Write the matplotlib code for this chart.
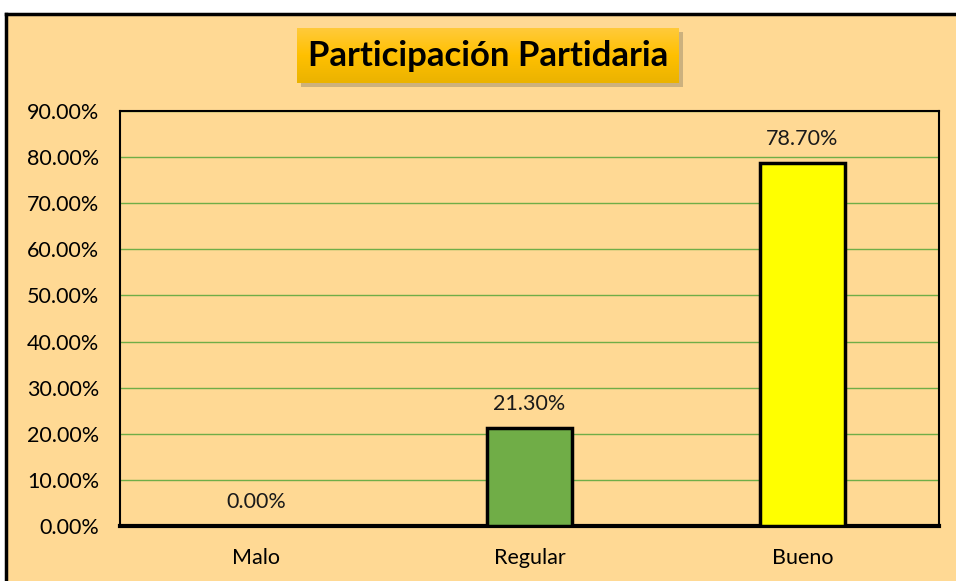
import matplotlib
matplotlib.use('Agg')
import matplotlib.pyplot as plt
from matplotlib.patches import Rectangle
from matplotlib.lines import Line2D
import numpy as np

categories = ['Malo', 'Regular', 'Bueno']
values = [0.0, 21.3, 78.7]
bar_colors = ['#70AD47', '#70AD47', '#FFFF00']
yticks = np.arange(0, 91, 10)

bg = '#FFD994'
plt.rcParams['font.family'] = ['Lato', 'DejaVu Sans']

fig = plt.figure(figsize=(9.56, 5.81), dpi=100)
fig.patch.set_facecolor(bg)

# white margin at top and left, black border only on those two sides
bx, by = 6 / 956, 1 - 14 / 581
fig.patches.append(Rectangle((0, by), 1, 1 - by, transform=fig.transFigure,
                             facecolor='white', edgecolor='none', zorder=-2))
fig.patches.append(Rectangle((0, 0), bx, 1, transform=fig.transFigure,
                             facecolor='white', edgecolor='none', zorder=-2))
fig.lines.append(Line2D([bx, bx], [-0.05, by], transform=fig.transFigure,
                        color='black', linewidth=2.5, zorder=-1))
fig.lines.append(Line2D([bx, 1.05], [by, by], transform=fig.transFigure,
                        color='black', linewidth=2.5, zorder=-1))

ax = fig.add_axes([120 / 956, 55 / 581, 819 / 956, 415 / 581])
ax.set_facecolor(bg)

x = np.arange(len(categories))
ax.bar(x, values, width=0.315, color=bar_colors, edgecolor='black',
       linewidth=2.5, zorder=3)

for xi, v in zip(x, values):
    ax.annotate(f'{v:.2f}%', (xi, v), xytext=(0, 10), textcoords='offset points',
                ha='center', va='bottom', fontsize=15.5, color='#1a1a1a')

ax.set_xlim(-0.5, 2.5)
ax.set_ylim(0, 90)
ax.set_yticks(yticks)
ax.set_yticklabels([f'{t:.2f}%' for t in yticks], fontsize=15.5)
ax.set_xticks(x)
ax.set_xticklabels(categories, fontsize=15.5)
ax.tick_params(length=0)
ax.tick_params(axis='y', pad=15)
ax.tick_params(axis='x', pad=16)
ax.yaxis.grid(True, color='#70AD47', linewidth=1)
ax.set_axisbelow(True)
for s in ['top', 'right', 'left']:
    ax.spines[s].set_linewidth(1.5)
    ax.spines[s].set_color('black')
ax.spines['bottom'].set_linewidth(3)

# title box with shadow and gold gradient
fig.patches.append(Rectangle((301 / 956, 1 - 87 / 581), 382 / 956, 55 / 581,
                             transform=fig.transFigure, facecolor='#9a8a6a',
                             alpha=0.5, edgecolor='none', zorder=1))
tax = fig.add_axes([297 / 956, 1 - 83 / 581, 382 / 956, 55 / 581], zorder=2)
grad = np.linspace(0, 1, 64).reshape(-1, 1)
cmap = matplotlib.colors.LinearSegmentedColormap.from_list('gold', ['#FFCA3A', '#FFC000', '#EBB300'])
tax.imshow(grad, aspect='auto', cmap=cmap, extent=[0, 1, 0, 1])
tax.axis('off')
tax.text(0.5, 0.5, 'Participación Partidaria', ha='center', va='center',
         fontsize=25, fontweight='bold', color='black', transform=tax.transAxes)

fig.savefig('out.png', dpi=100, facecolor=bg)
